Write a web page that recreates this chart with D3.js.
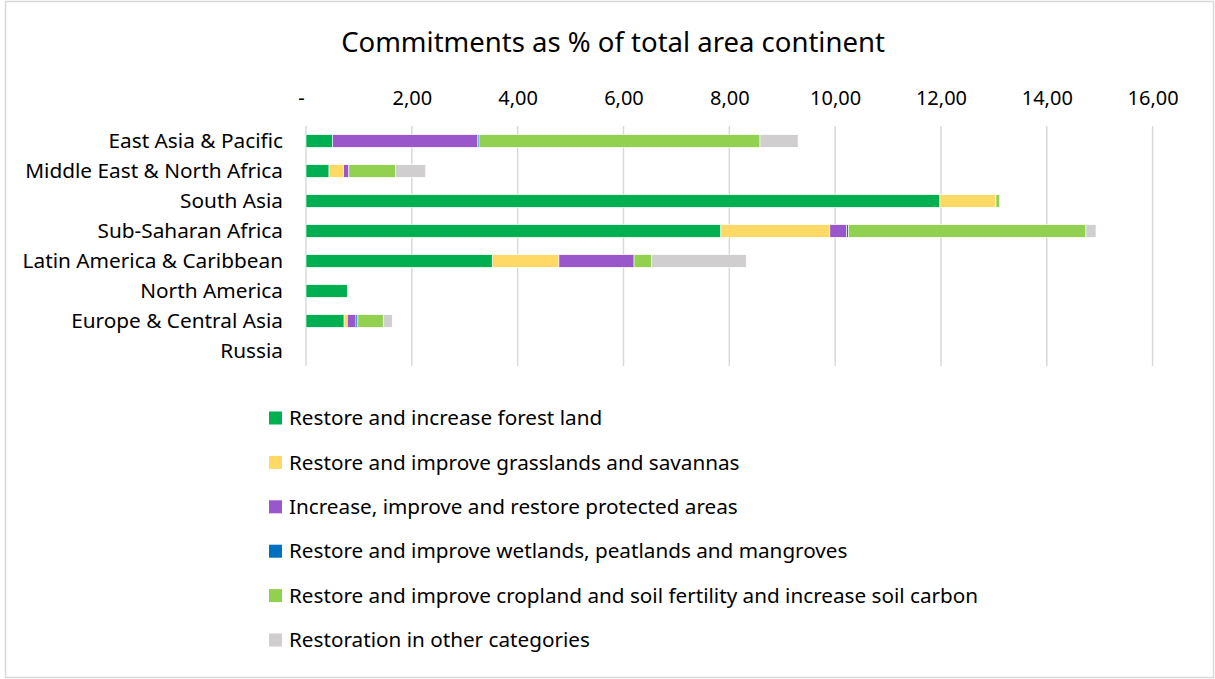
<!DOCTYPE html>
<html>
<head>
<meta charset="utf-8">
<script src="https://cdn.jsdelivr.net/npm/d3@7"></script>
<style>
  body { margin: 0; background: #fff; }
  svg { display: block; font-family: "Noto Sans", "Open Sans", sans-serif; }
</style>
</head>
<body>
<svg id="chart" width="1215" height="679"></svg>
<script>
// data (% of total area)
const regions = [
  "East Asia & Pacific",
  "Middle East & North Africa",
  "South Asia",
  "Sub-Saharan Africa",
  "Latin America & Caribbean",
  "North America",
  "Europe & Central Asia",
  "Russia"
];
const forest    = [0.50, 0.435, 11.98, 7.84, 3.52, 0.78, 0.72, 0];
const grass     = [0.00, 0.275, 1.06, 2.06, 1.26, 0, 0.06, 0];
const protectedAreas = [2.74, 0.10, 0.00, 0.32, 1.42, 0, 0.165, 0];
const wetlands  = [0.03, 0.00, 0.00, 0.03, 0.00, 0, 0.035, 0];
const cropland  = [5.31, 0.88, 0.07, 4.49, 0.33, 0, 0.48, 0];
const other     = [0.72, 0.57, 0.00, 0.19, 1.79, 0, 0.17, 0];

const seriesNames = [
  "Restore and increase forest land",
  "Restore and improve grasslands and savannas",
  "Increase, improve and restore protected areas",
  "Restore and improve wetlands, peatlands and mangroves",
  "Restore and improve cropland and soil fertility and increase soil carbon",
  "Restoration in other categories"
];
const seriesValues = [forest, grass, protectedAreas, wetlands, cropland, other];
const colors = ["#00b050", "#ffd966", "#9957cb", "#0070c0", "#92d050", "#d0cece"];
const xTicks = [0, 2, 4, 6, 8, 10, 12, 14, 16];

const svg = d3.select("#chart");

// chart border
svg.append("rect")
  .attr("x", 5.5).attr("y", 1.5)
  .attr("width", 1208).attr("height", 676)
  .attr("fill", "none")
  .attr("stroke", "#d9d9d9")
  .attr("stroke-width", 1.5);

svg.append("text")
  .attr("x", 613).attr("y", 52)
  .attr("text-anchor", "middle")
  .attr("font-size", 27.5)
  .attr("fill", "#000")
  .text("Commitments as % of total area continent");

const x = d3.scaleLinear().domain([0, 16]).range([306, 1152.6]);
const y = d3.scaleBand().domain(regions).range([126, 366])
  .paddingInner(0.58).paddingOuter(0.29);

// gridlines
svg.append("g")
  .selectAll("line")
  .data(xTicks)
  .join("line")
  .attr("x1", d => x(d)).attr("x2", d => x(d))
  .attr("y1", 126).attr("y2", 366)
  .attr("stroke", "#d9d9d9")
  .attr("stroke-width", 1.5);

// top axis labels
const fmt = d => d === 0 ? "-" : d3.format(".2f")(d).replace(".", ",");
const xAxis = d3.axisTop(x).tickValues(xTicks).tickFormat(fmt).tickSize(0).tickPadding(0);
const gx = svg.append("g")
  .attr("transform", "translate(0,105)")
  .call(xAxis);
gx.select(".domain").remove();
gx.selectAll("text")
  .attr("font-family", "'Noto Sans', 'Open Sans', sans-serif")
  .attr("font-size", 20)
  .attr("fill", "#000");
gx.selectAll(".tick").filter(d => d === 0).select("text").attr("dx", -5);

// stacked bars
const rows = regions.map((r, i) => {
  const o = { region: r };
  seriesNames.forEach((s, j) => { o[s] = seriesValues[j][i]; });
  return o;
});
const stacked = d3.stack().keys(seriesNames)(rows);

svg.append("g")
  .selectAll("g")
  .data(stacked)
  .join("g")
  .attr("fill", (d, i) => colors[i])
  .selectAll("rect")
  .data(d => d.filter(v => v[1] - v[0] > 0))
  .join("rect")
  .attr("x", d => x(d[0]))
  .attr("width", d => x(d[1]) - x(d[0]))
  .attr("y", d => y(d.data.region))
  .attr("height", y.bandwidth())
  .attr("stroke", "#fff")
  .attr("stroke-width", 0.6);

// category labels
const gy = svg.append("g")
  .attr("transform", "translate(283,0)")
  .call(d3.axisLeft(y).tickSize(0).tickPadding(0));
gy.select(".domain").remove();
gy.selectAll("text")
  .attr("font-family", "'Noto Sans', 'Open Sans', sans-serif")
  .attr("font-size", 20.8)
  .attr("fill", "#000");

// legend
const legend = svg.append("g")
  .selectAll("g")
  .data(seriesNames)
  .join("g")
  .attr("transform", (d, i) => `translate(269,${418 + i * 44.4})`);
legend.append("rect")
  .attr("x", 0).attr("y", -6.5)
  .attr("width", 13).attr("height", 13)
  .attr("fill", (d, i) => colors[i]);
legend.append("text")
  .attr("x", 20).attr("y", 0)
  .attr("dy", "0.35em")
  .attr("font-size", 20.7)
  .attr("fill", "#000")
  .text(d => d);
</script>
</body>
</html>
